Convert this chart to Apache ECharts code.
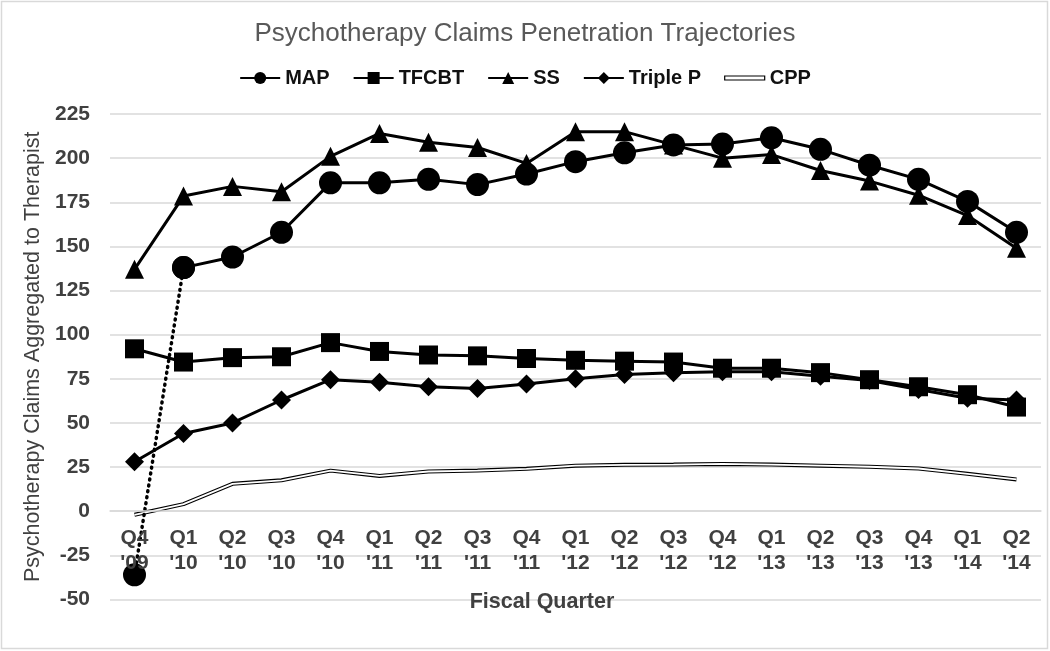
<!DOCTYPE html>
<html>
<head>
<meta charset="utf-8">
<script src="https://cdn.jsdelivr.net/npm/echarts@6/dist/echarts.min.js"></script>
<style>html,body{margin:0;padding:0;background:#fff;}#c{width:1050px;height:651px;}</style>
</head>
<body>
<div id="c"></div>
<script>
var categories = ["Q4\n'09","Q1\n'10","Q2\n'10","Q3\n'10","Q4\n'10","Q1\n'11","Q2\n'11","Q3\n'11","Q4\n'11","Q1\n'12","Q2\n'12","Q3\n'12","Q4\n'12","Q1\n'13","Q2\n'13","Q3\n'13","Q4\n'13","Q1\n'14","Q2\n'14"];
var mapFirst = -36;
var mapValues = [null,138,144,158,186,186,188,185,191,198,203,207.5,208,211.5,205,196,188,175.5,158];
var tfcbtValues = [92,84.5,87,87.5,95.5,90.5,88.5,88,86.5,85.5,85,84.5,81,81,78.5,74.5,70.5,66,59];
var ssValues = [137,178.5,184,181,201,214,209,206,197,215,215,207.5,200,202,193,187,179,167.5,149];
var triplePValues = [28,44,50,63,74.5,73,70.5,69.5,72,75,77.5,78.5,79,79,76.5,74,69,64,63];
var cppValues = [-2,4,15.5,17.5,23,20,22.5,23,24,25.8,26.3,26.4,26.8,26.4,25.8,25.2,24.2,21.2,18];
var yTicks = {min:-50, max:225, interval:25};

var mapSolid = mapValues.map(function(v){ return v===null ? '-' : v; });
var mapDot = categories.map(function(c,i){ return i===0 ? mapFirst : (i===1 ? mapValues[1] : '-'); });

var FONT = 'Liberation Sans, Arial, sans-serif';
var chart = echarts.init(document.getElementById('c'), null, {renderer:'canvas'});
var gridTop = 114, gridBottom = 51.5, H = 651;
var plotH = H - gridTop - gridBottom;
var zeroOffset = -plotH * (0 - yTicks.min) / (yTicks.max - yTicks.min);
var lineW = 3;
function ser(name, data, symbol, size, extra){
  var s = {
    name:name, type:'line', data:data, symbol:symbol, symbolSize:size, showAllSymbol:true,
    lineStyle:{color:'#000', width:lineW}, itemStyle:{color:'#000'},
    emphasis:{disabled:true}, animation:false, connectNulls:false
  };
  for (var k in extra) s[k]=extra[k];
  return s;
}
var option = {
  backgroundColor:'#fff',
  animation:false,
  title:[{
    text:'Psychotherapy Claims Penetration Trajectories',
    left:'center', top:16,
    textStyle:{fontFamily:FONT, fontSize:26, fontWeight:'normal', color:'#595959'}
  },{
    text:'Fiscal Quarter',
    left:537, top:586, textAlign:'center',
    textStyle:{fontFamily:FONT, fontSize:21.5, fontWeight:'bold', color:'#404040'}
  }],
  legend:{
    left:'center', top:63, itemWidth:40, itemHeight:15, itemGap:23,
    textStyle:{fontFamily:FONT, fontSize:20, fontWeight:'bold', color:'#111'},
    data:[
      {name:'MAP'},{name:'TFCBT'},{name:'SS'},{name:'Triple P'},
      {name:'CPP', icon:'path://M0,0L40,0L40,4L0,4Z', itemStyle:{color:'#fff', borderColor:'#000', borderWidth:1.2}}
    ]
  },
  grid:{left:110, right:9, top:gridTop, bottom:gridBottom, containLabel:false, outerBoundsMode:'none'},
  xAxis:{
    type:'category', data:categories, boundaryGap:true, position:'bottom', offset:zeroOffset, z:10,
    axisLine:{show:true, onZero:false, lineStyle:{color:'#d9d9d9', width:1.5}},
    axisTick:{show:false},
    axisLabel:{fontFamily:FONT, fontSize:21, fontWeight:'bold', color:'#404040', lineHeight:25, margin:14, interval:0},
    splitLine:{show:false}
  },
  yAxis:{
    type:'value', min:yTicks.min, max:yTicks.max, interval:yTicks.interval,
    name:'Psychotherapy Claims Aggregated to Therapist', nameLocation:'middle', nameGap:61,
    nameTextStyle:{fontFamily:FONT, fontSize:21.5, color:'#404040', fontWeight:'normal'},
    axisLine:{show:false, onZero:false}, axisTick:{show:false},
    axisLabel:{fontFamily:FONT, fontSize:21, fontWeight:'bold', color:'#404040', margin:20},
    splitLine:{lineStyle:{color:'#d9d9d9', width:1.5}}
  },
  series:[
    ser('MAP', mapSolid, 'circle', 23, {z:6}),
    ser('MAP', mapDot, 'circle', 23, {z:6, lineStyle:{color:'#000', width:3.5, type:[1,5], cap:'round'}}),
    ser('TFCBT', tfcbtValues, 'rect', 19, {z:4}),
    ser('SS', ssValues, 'triangle', 19, {z:5}),
    ser('Triple P', triplePValues, 'diamond', 19, {z:3}),
    ser('CPP', cppValues, 'none', 0, {z:2, lineStyle:{color:'#000', width:4}}),
    ser('CPP', cppValues, 'none', 0, {z:2.5, lineStyle:{color:'#fff', width:1.8}})
  ],
  graphic:[{
    type:'rect', shape:{x:1.5, y:1.5, width:1046, height:647}, silent:true, z:-1,
    style:{fill:'none', stroke:'#d9d9d9', lineWidth:1.5}
  }]
};
chart.setOption(option);
</script>
</body>
</html>
